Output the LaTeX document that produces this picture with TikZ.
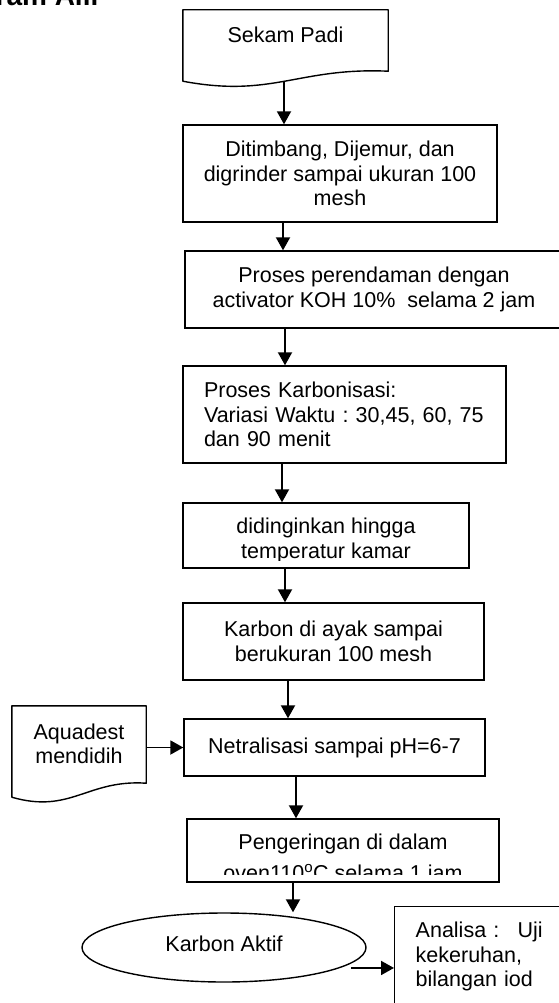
\documentclass[tikz,border=0pt]{standalone}
\usepackage{fontspec}
\setmainfont{Liberation Sans}
\usetikzlibrary{arrows.meta,positioning,shapes.geometric}
\frenchspacing

\begin{document}
\begin{tikzpicture}[x=1pt,y=1pt,
    every node/.style={font=\fontsize{21.5}{24.5}\selectfont},
    box/.style={draw,line width=1.4pt,align=center,inner sep=0pt},
    doc/.style 2 args={inner sep=0pt,align=center,
      append after command={\pgfextra{\begin{pgfinterruptpath}
        \draw[line width=1.4pt,line join=round] (\tikzlastnode.south west) -- (\tikzlastnode.north west)
          -- (\tikzlastnode.north east) -- ([yshift=#1]\tikzlastnode.south east)
          .. controls +(-#2,4) and +(#2,-17) .. (\tikzlastnode.south west) -- cycle;
      \end{pgfinterruptpath}}}},
    arr/.style={line width=1.9pt,-{Triangle[length=13pt,width=14pt]}}]
      \useasboundingbox (0,0) rectangle (559,-1003);

      \node[anchor=base east,font=\fontsize{28}{32}\selectfont\bfseries] (judul) at (105,-6) {Diagram Alir};

      \node[doc={10pt}{90},minimum width=205pt,minimum height=71pt,text depth=21pt] (sekam) at (285.5,-45.5) {Sekam Padi};
      \node[box,minimum width=314pt,minimum height=97pt] (timbang) at (340,-173.5) {Ditimbang, Dijemur, dan\\ digrinder sampai ukuran 100\\ mesh};
      \node[box,minimum width=378pt,minimum height=77pt] (rendam) at (374,-289.5) {Proses perendaman dengan\\ activator KOH 10\%\ \ selama 2 jam};
      \node[box,align=left,text width=281pt,minimum width=323pt,minimum height=97pt] (karbonisasi) at (344.5,-414.5) {Proses Karbonisasi:\\ Variasi Waktu : 30,45, 60, 75\\ dan 90 menit};
      \node[box,minimum width=286pt,minimum height=65pt,
        path picture={\clip ([yshift=7.5pt]path picture bounding box.south west) rectangle (path picture bounding box.north east);
          \node[align=center,inner sep=0pt,anchor=north] (dingintext) at ([yshift=-4pt]path picture bounding box.north) {didinginkan hingga\\ temperatur kamar};}] (dingin) at (326,-535.5) {};
      \node[box,minimum width=301pt,minimum height=77pt] (ayak) at (333.5,-641.5) {Karbon di ayak sampai\\ berukuran 100 mesh};
      \node[box,minimum width=301pt,minimum height=57pt] (netral) at (334.5,-747.5) {Netralisasi sampai pH=6-7};
      \node[doc={14pt}{59},minimum width=134pt,minimum height=91pt,text depth=16pt] (aquadest) at (79,-751.5) {Aquadest\\ mendidih};
      \node[box,minimum width=312pt,minimum height=63pt,
        path picture={\clip ([yshift=8pt]path picture bounding box.south west) rectangle (path picture bounding box.north east);
          \node[align=center,inner sep=0pt,anchor=north] (keringtext) at ([yshift=-8pt]path picture bounding box.north) {Pengeringan di dalam\\[6pt] oven110\textsuperscript{o}C selama 1 jam};}] (kering) at (343,-850.5) {};
      \node[ellipse,draw,line width=1.4pt,inner sep=0pt,minimum width=284pt,minimum height=69pt,text depth=7pt] (aktif) at (224,-947.5) {Karbon Aktif};
      \node[box,anchor=north west,align=left,text width=127pt,inner xsep=21pt,minimum height=100pt] (analisa) at (394,-906) {Analisa\ :\hfill Uji\\ kekeruhan,\\ bilangan iod};

      \foreach \from/\to/\x in {sekam/timbang/284,timbang/rendam/283,rendam/karbonisasi/285,karbonisasi/dingin/282,dingin/ayak/285,ayak/netral/288,netral/kering/296,kering/aktif/293}
      \draw[arr] (\from.south -| \x,0) -- (\to.north -| \x,0);

      \draw[arr] (aquadest.east |- netral.west) -- (netral.west);
      \draw[arr] ([xshift=11pt]aktif.-10) -- (analisa.west |- aktif.-10);
  \end{tikzpicture}
\end{document}
